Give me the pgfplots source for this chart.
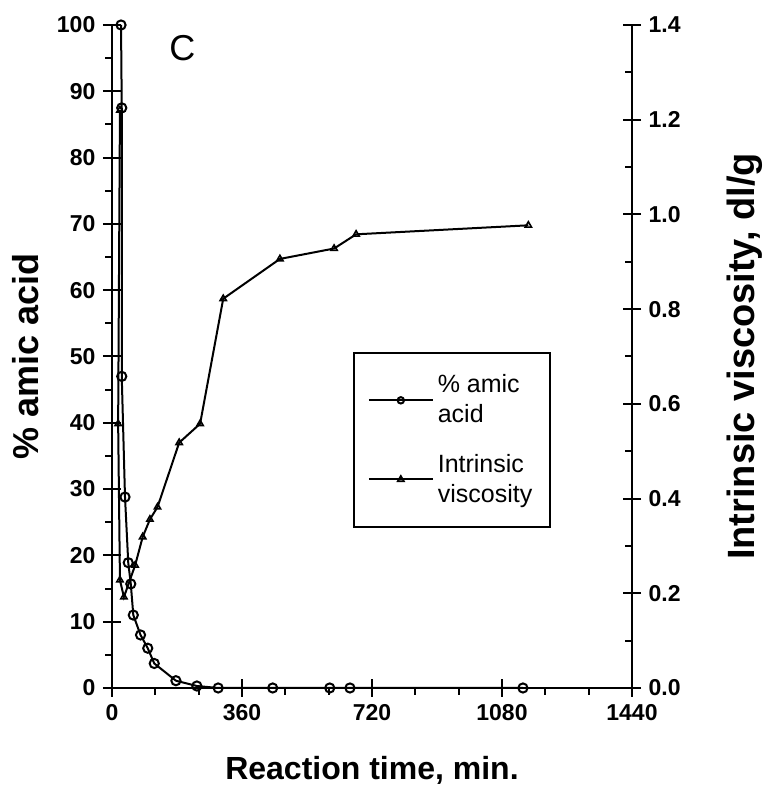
\documentclass[border=0pt]{standalone}
\usepackage{fontspec}
\setmainfont{Liberation Sans}
\usepackage{pgfplots}
\usepackage{pgfplotstable}
\pgfplotsset{compat=1.18}

% % amic acid (left axis)
\pgfplotstableread{
t   amic
25  100
27  87.5
27  47
36  28.8
45  18.9
52  15.7
59  11.0
79  8.0
99  6.0
117 3.7
177 1.1
235 0.3
294 0.0
445 0.0
603 0.0
659 0.0
1138 0.0
}\amic

% intrinsic viscosity (right axis)
\pgfplotstableread{
t   visc
22  1.22
17  0.558
22  0.228
33  0.192
64  0.259
85  0.319
105 0.356
126 0.382
186 0.518
244 0.558
308 0.822
465 0.906
615 0.928
676 0.958
1153 0.977
}\visc

\pgfplotsset{
  common/.style={
    width=260pt, height=331.5pt, scale only axis,
    xmin=0, xmax=1440,
    line width=1pt,
    tick style={line width=1pt, black},
    major tick length=4.5pt,
    minor tick length=3.5pt,
    tick label style={font=\bfseries\fontsize{11.5}{11.5}\selectfont},
    /pgf/number format/assume math mode=true,
    /pgf/number format/1000 sep={},
    label style={font=\bfseries\fontsize{18}{18}\selectfont},
  },
  amicplot/.style={black, line width=1pt, mark=o, mark size=2.3pt, mark options={fill=white, line width=1pt}},
  viscplot/.style={black, line width=1pt, mark=triangle, mark size=1.8pt, mark options={fill=white, line width=0.8pt}},
}

\begin{document}
\begin{tikzpicture}
\begin{axis}[
  common,
  axis x line*=bottom, axis y line*=left,
  ymin=0, ymax=100,
  xtick={0,360,720,1080,1440},
  minor xtick={120,240,480,600,840,960,1200,1320},
  ytick={0,10,...,100},
  minor ytick={5,15,...,95},
  tick align=outside,
  extra x ticks={0,360,720,1080,1440}, extra x tick labels={},
  extra x tick style={tick align=inside},
  extra y ticks={0,10,...,100}, extra y tick labels={},
  extra y tick style={tick align=inside},
  xlabel={Reaction time, min.},
  ylabel={\% amic acid},
  xlabel style={at={(axis description cs:0.5,-0.124)}, anchor=center, font=\bfseries\fontsize{16}{16}\selectfont},
  ylabel style={at={(axis description cs:-0.167,0.5)}, anchor=center},
  clip=false,
]
\addplot[amicplot] table[x=t, y=amic] {\amic};
\node[font=\fontsize{18}{18}\selectfont] at (axis cs:195,96.5) {C};
\coordinate (bl) at (axis description cs:-0.2154,-0.1614);
\coordinate (tr) at (axis description cs:1.2558,1.0377);
\end{axis}
\begin{axis}[
  common,
  axis x line=none, axis y line*=right,
  ymin=0, ymax=1.4,
  ytick={0,0.2,...,1.4},
  minor ytick={0.1,0.3,...,1.3},
  yticklabel style={xshift=4.5pt, /pgf/number format/.cd, fixed, fixed zerofill, precision=1},
  tick align=inside,
  extra y ticks={0,0.2,...,1.4}, extra y tick labels={},
  extra y tick style={tick align=outside},
  ylabel={Intrinsic viscosity, dl/g},
  ylabel style={at={(axis description cs:1.217,0.5)}, anchor=center, font=\bfseries\fontsize{19}{19}\selectfont},
  legend style={at={(0.4635,0.5068)}, anchor=north west, draw=black, line width=0.8pt,
    font=\fontsize{12.5}{15}\selectfont, cells={align=left}, row sep=10pt,
    inner xsep=7pt, inner ysep=9pt},
  legend cell align=left,
  legend image code/.code={\draw[mark repeat=2, mark phase=2] plot coordinates {(0pt,0pt) (16pt,0pt) (32pt,0pt)};},
  clip=false,
]
\addlegendimage{amicplot, mark size=1.6pt}
\addlegendentry{\% amic\\acid}
\addplot[viscplot] table[x=t, y=visc] {\visc};
\addlegendentry{Intrinsic\\viscosity}
\end{axis}
\pgfresetboundingbox
\path[use as bounding box] (bl) rectangle (tr);
\end{tikzpicture}
\end{document}
